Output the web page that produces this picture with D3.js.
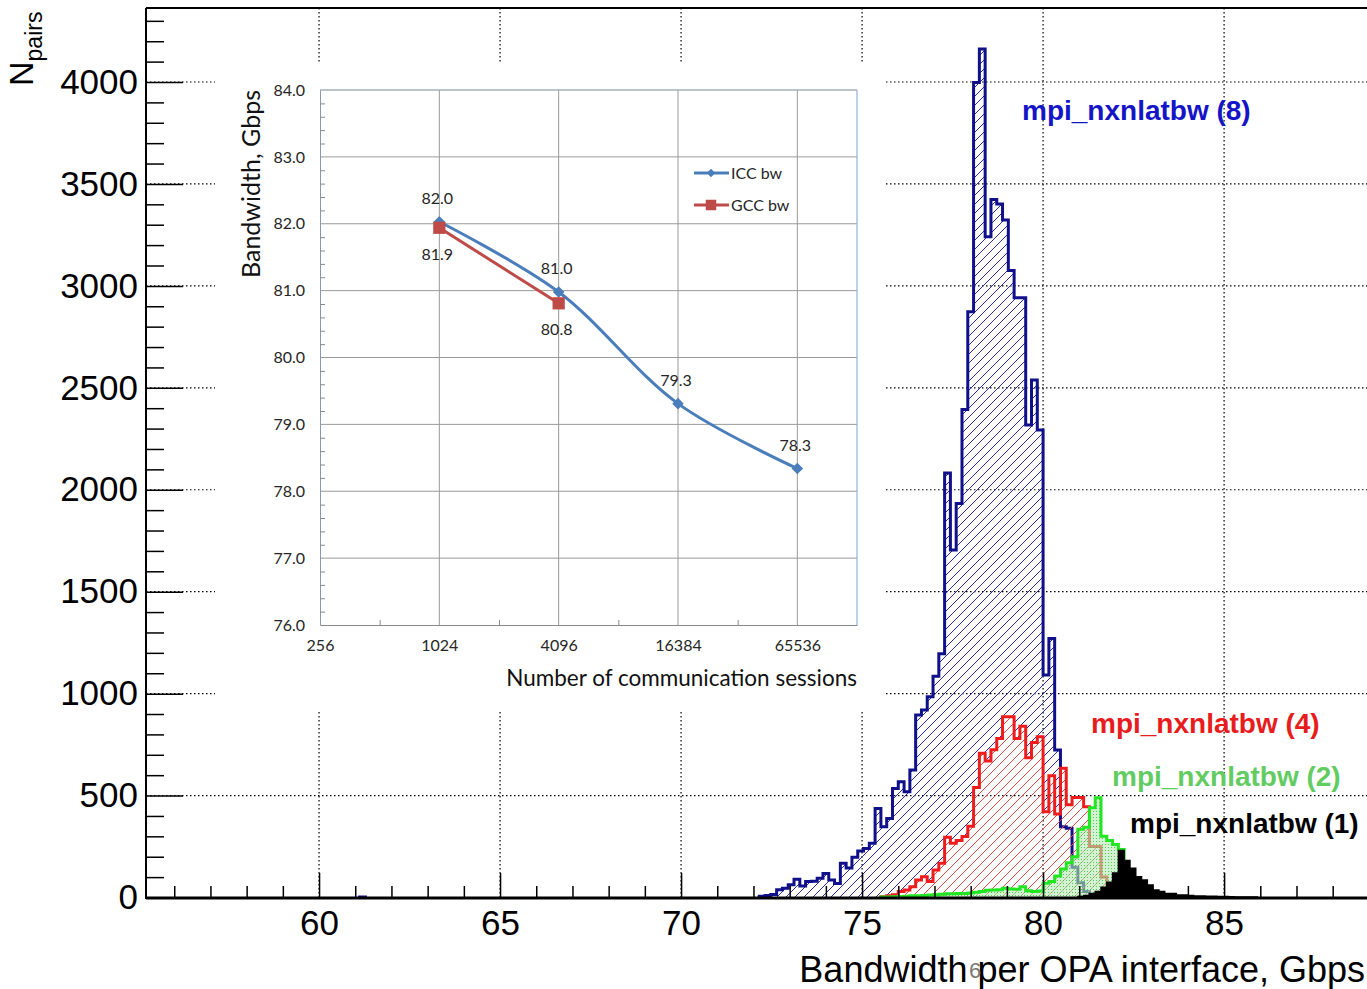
<!DOCTYPE html>
<html>
<head>
<meta charset="utf-8">
<script src="https://cdn.jsdelivr.net/npm/d3@7"></script>
<style>
body { margin: 0; background: #fff; }
svg { display: block; font-family: "Liberation Sans", Arial, sans-serif; }
</style>
</head>
<body>
<svg id="chart" width="1367" height="989"></svg>
<script>
const binWidth = 0.16;

const blueStart = 72.16;
const blueCounts = [6, 10, 15, 38, 45, 62, 89, 56, 78, 80, 94, 118, 86, 69, 168, 145, 197, 228, 240, 266,
    437, 347, 388, 535, 568, 519, 625, 895, 920, 985, 1085, 1195, 2082, 1704, 1933, 2394, 2873, 3998, 4162,
    3241, 3424, 3401, 3323, 3075, 2942, 2942, 2318, 2538, 2293, 1091, 1271, 723, 347, 340, 148, 72, 30, 8];
const blueStray = [{x0: 61.12, n: 3}];

const redStart = 75.52;
const redCounts = [4, 8, 14, 29, 37, 53, 86, 102, 78, 135, 168, 295, 266, 280, 299, 350, 540, 707, 670, 725,
    780, 887, 887, 780, 840, 685, 760, 789, 421, 597, 410, 634, 455, 490, 490, 445, 250, 250, 100, 15, 8, 6, 5, 4, 3];

const greenStart = 75.52;
const greenCounts = [2, 3, 4, 5, 6, 8, 8, 10, 12, 14, 16, 18, 18, 20, 20, 22, 26, 30, 35, 37, 38, 45, 42, 40,
    53, 33, 30, 32, 70, 78, 105, 140, 170, 200, 335, 345, 440, 489, 300, 280, 260, 235, 12, 10, 8, 6, 5, 5, 4, 3, 3, 3, 2];

const blackStart = 80.96;
const blackCounts = [5, 10, 20, 30, 50, 75, 120, 230, 182, 143, 102, 86, 61, 37, 29, 20, 20, 12, 12, 10, 7, 7,
    6, 6, 5, 5, 4, 3, 3, 2, 2];

const xMajor = [60, 65, 70, 75, 80, 85];
const yMajor = [0, 500, 1000, 1500, 2000, 2500, 3000, 3500, 4000];

const seriesLabels = [
    {text: "mpi_nxnlatbw (8)", color: "#1414c8", x: 1022, y: 120},
    {text: "mpi_nxnlatbw (4)", color: "#e81c1c", x: 1091, y: 733},
    {text: "mpi_nxnlatbw (2)", color: "#62cc62", x: 1112, y: 786},
    {text: "mpi_nxnlatbw (1)", color: "#000000", x: 1130, y: 833}
];

// inset
const sessions = [1024, 4096, 16384, 65536];
const iccBw = [82.03, 80.98, 79.31, 78.34];
const gccSessions = [1024, 4096];
const gccBw = [81.94, 80.81];
const insetXTicks = [256, 1024, 4096, 16384, 65536];
const insetXMinor = [512, 2048, 8192, 32768];
const insetYTicks = [76, 77, 78, 79, 80, 81, 82, 83, 84];

const svg = d3.select("#chart");

const x = d3.scaleLinear().domain([55.22, 89.5]).range([146, 1387]);
const y = d3.scaleLinear().domain([0, 4000]).range([897.5, 82]);

const defs = svg.append("defs");

function hatch(id, color) {
    defs.append("pattern")
        .attr("id", id)
        .attr("patternUnits", "userSpaceOnUse")
        .attr("width", 9)
        .attr("height", 9)
        .append("path")
        .attr("d", "M-1,1 l2,-2 M0,9 l9,-9 M8,10 l2,-2")
        .attr("stroke", color)
        .attr("stroke-width", 1);
}
hatch("hatchBlue", "#2b2ba6");
hatch("hatchRed", "#e34848");

const dots = defs.append("pattern")
    .attr("id", "dotsGreen")
    .attr("patternUnits", "userSpaceOnUse")
    .attr("width", 3)
    .attr("height", 3);
dots.append("rect").attr("width", 3).attr("height", 3).attr("fill", "#b4ecb4").attr("fill-opacity", 0.6);
dots.append("rect").attr("x", 1).attr("y", 1).attr("width", 1).attr("height", 1).attr("fill", "#3cb83c").attr("fill-opacity", 0.8);

// dotted grid
const grid = svg.append("g")
    .attr("stroke", "#000")
    .attr("stroke-width", 1.2)
    .attr("stroke-dasharray", "1.5,2.5");
grid.selectAll(".vg").data(xMajor).join("line")
    .attr("x1", d => x(d)).attr("x2", d => x(d))
    .attr("y1", 8).attr("y2", 898);
grid.selectAll(".hg").data(yMajor.slice(1)).join("line")
    .attr("x1", 146).attr("x2", 1367)
    .attr("y1", d => y(d)).attr("y2", d => y(d));

// histograms
function toBins(start, counts) {
    return counts.map((n, i) => ({x0: start + i * binWidth, n}));
}
function closed(bins) {
    const last = bins[bins.length - 1];
    return [{x0: bins[0].x0, n: 0}, ...bins, {x0: last.x0 + binWidth, n: 0}];
}
const area = d3.area().curve(d3.curveStepAfter).x(d => x(d.x0)).y0(y(0)).y1(d => y(d.n));
const line = d3.line().curve(d3.curveStepAfter).x(d => x(d.x0)).y(d => y(d.n));

function drawHist(bins, fill, stroke, width) {
    const pts = closed(bins);
    svg.append("path").attr("d", area(pts)).attr("fill", fill);
    if (stroke) {
        svg.append("path").attr("d", line(pts))
            .attr("fill", "none")
            .attr("stroke", stroke)
            .attr("stroke-width", width)
            .attr("stroke-linejoin", "miter");
    }
}

drawHist(toBins(blueStart, blueCounts), "url(#hatchBlue)", "#10108a", 3);
drawHist(blueStray, "none", "#10108a", 3);
drawHist(toBins(redStart, redCounts), "url(#hatchRed)", "#ee1c1c", 3);
drawHist(toBins(greenStart, greenCounts), "url(#dotsGreen)", "#22e622", 3);
drawHist(toBins(blackStart, blackCounts), "#000", "#000", 1.5);

// axes
const yAxis = svg.append("g")
    .attr("transform", "translate(146,0)")
    .call(d3.axisLeft(y).tickValues(yMajor).tickSizeInner(-37).tickSizeOuter(0).tickPadding(8)
        .tickFormat(d3.format("d")));
yAxis.select(".domain").remove();
yAxis.selectAll("line").attr("stroke-width", 1.5);
yAxis.selectAll("text").attr("font-size", 35).attr("font-family", "'Liberation Sans', Arial").attr("fill", "#000");

const yMinor = svg.append("g")
    .attr("transform", "translate(146,0)")
    .call(d3.axisLeft(y).tickValues(d3.range(100, 4400, 100).filter(v => v % 500 !== 0))
        .tickSizeInner(-18).tickSizeOuter(0).tickFormat(""));
yMinor.select(".domain").remove();
yMinor.selectAll("line").attr("stroke-width", 1.5);

const xAxis = svg.append("g")
    .attr("transform", "translate(0,898)")
    .call(d3.axisBottom(x).tickValues(xMajor).tickSizeInner(-25).tickSizeOuter(0).tickPadding(12));
xAxis.select(".domain").remove();
xAxis.selectAll("line").attr("stroke-width", 1.5);
xAxis.selectAll("text").attr("font-size", 35).attr("font-family", "'Liberation Sans', Arial").attr("fill", "#000");

const xMinor = svg.append("g")
    .attr("transform", "translate(0,898)")
    .call(d3.axisBottom(x).tickValues(d3.range(56, 90).filter(v => v % 5 !== 0))
        .tickSizeInner(-12).tickSizeOuter(0).tickFormat(""));
xMinor.select(".domain").remove();
xMinor.selectAll("line").attr("stroke-width", 1.5);

svg.append("line").attr("x1", 146).attr("x2", 1367).attr("y1", 898).attr("y2", 898)
    .attr("stroke", "#000").attr("stroke-width", 3);
svg.append("line").attr("x1", 146).attr("x2", 146).attr("y1", 8).attr("y2", 899)
    .attr("stroke", "#000").attr("stroke-width", 2);
svg.append("line").attr("x1", 146).attr("x2", 1367).attr("y1", 8).attr("y2", 8)
    .attr("stroke", "#000").attr("stroke-width", 2);

// axis titles
const yTitle = svg.append("text")
    .attr("transform", "translate(33,86) rotate(-90)")
    .attr("font-size", 34)
    .attr("fill", "#000");
yTitle.append("tspan").text("N");
yTitle.append("tspan").attr("font-size", 23).attr("dy", 9).text("pairs");

svg.append("text")
    .attr("x", 1365).attr("y", 982)
    .attr("text-anchor", "end")
    .attr("font-size", 36)
    .attr("fill", "#000")
    .text("Bandwidth per OPA interface, Gbps");

// stray page number in the source image
svg.append("text")
    .attr("x", 975).attr("y", 978)
    .attr("text-anchor", "middle")
    .attr("font-size", 22)
    .attr("fill", "#777")
    .text("6");

// series labels
svg.selectAll(".slab").data(seriesLabels).join("text")
    .attr("x", d => d.x).attr("y", d => d.y)
    .attr("font-size", 28)
    .attr("font-weight", "bold")
    .attr("fill", d => d.color)
    .text(d => d.text);

// ---------------- inset ----------------
const ins = svg.append("g").attr("font-family", "Lato, 'Open Sans', sans-serif");
ins.append("rect").attr("x", 215).attr("y", 62).attr("width", 670).attr("height", 650).attr("fill", "#fff");

const xi = d3.scaleLog().base(2).domain([256, 131072]).range([320, 857]);
const yi = d3.scaleLinear().domain([76, 84]).range([625, 90]);

ins.selectAll(".ihg").data(insetYTicks.slice(1)).join("line")
    .attr("x1", 320).attr("x2", 857)
    .attr("y1", d => yi(d)).attr("y2", d => yi(d))
    .attr("stroke", "#9a9a9a").attr("stroke-width", 1);
ins.selectAll(".ivg").data(insetXTicks.slice(1)).join("line")
    .attr("x1", d => xi(d)).attr("x2", d => xi(d))
    .attr("y1", 90).attr("y2", 625)
    .attr("stroke", "#9a9a9a").attr("stroke-width", 1);

// plot-area border
ins.append("line").attr("x1", 857).attr("x2", 857).attr("y1", 90).attr("y2", 625)
    .attr("stroke", "#8fb4dc").attr("stroke-width", 1.2);
ins.append("line").attr("x1", 320).attr("x2", 857).attr("y1", 90).attr("y2", 90)
    .attr("stroke", "#a8b8c8").attr("stroke-width", 1);

const yiAxis = ins.append("g")
    .attr("transform", "translate(320,0)")
    .call(d3.axisLeft(yi).tickValues(insetYTicks).tickSize(0).tickPadding(15).tickFormat(d3.format(".1f")));
yiAxis.select(".domain").attr("stroke", "#8a9aaa");
yiAxis.selectAll("text").attr("font-size", 16).attr("fill", "#262626").attr("font-family", "Lato, sans-serif");

const yiMinor = ins.append("g")
    .attr("transform", "translate(320,0)")
    .call(d3.axisLeft(yi).tickValues(d3.range(76.2, 84, 0.2).filter(v => Math.abs(v - Math.round(v)) > 0.05))
        .tickSizeInner(-5).tickSizeOuter(0).tickFormat(""));
yiMinor.select(".domain").remove();
yiMinor.selectAll("line").attr("stroke", "#8a8a8a");

const xiAxis = ins.append("g")
    .attr("transform", "translate(0,625)")
    .call(d3.axisBottom(xi).tickValues(insetXTicks).tickSize(0).tickPadding(15).tickFormat(d3.format("d")));
xiAxis.select(".domain").attr("stroke", "#8a8a8a");
xiAxis.selectAll("text").attr("font-size", 16).attr("fill", "#262626").attr("font-family", "Lato, sans-serif");

const xiMinor = ins.append("g")
    .attr("transform", "translate(0,625)")
    .call(d3.axisBottom(xi).tickValues(insetXMinor).tickSizeInner(-5).tickSizeOuter(0).tickFormat(""));
xiMinor.select(".domain").remove();
xiMinor.selectAll("line").attr("stroke", "#8a8a8a");

ins.append("text")
    .attr("transform", "translate(260,184) rotate(-90)")
    .attr("text-anchor", "middle")
    .attr("font-size", 25)
    .attr("fill", "#111")
    .text("Bandwidth, Gbps");

ins.append("text")
    .attr("x", 857).attr("y", 686)
    .attr("text-anchor", "end")
    .attr("font-size", 22.5)
    .attr("fill", "#111")
    .text("Number of communication sessions");

const iccColor = "#4a7ebb";
const gccColor = "#be4b48";

const iccPts = sessions.map((s, i) => ({s, v: iccBw[i]}));
const gccPts = gccSessions.map((s, i) => ({s, v: gccBw[i]}));

ins.append("path")
    .attr("d", d3.line().curve(d3.curveCatmullRom.alpha(0.5)).x(d => xi(d.s)).y(d => yi(d.v))(iccPts))
    .attr("fill", "none").attr("stroke", iccColor).attr("stroke-width", 3);
ins.append("path")
    .attr("d", d3.line().x(d => xi(d.s)).y(d => yi(d.v))(gccPts))
    .attr("fill", "none").attr("stroke", gccColor).attr("stroke-width", 3);

ins.selectAll(".icc").data(iccPts).join("path")
    .attr("transform", d => `translate(${xi(d.s)},${yi(d.v)})`)
    .attr("d", d3.symbol(d3.symbolDiamond2, 85))
    .attr("fill", iccColor);
ins.selectAll(".gcc").data(gccPts).join("path")
    .attr("transform", d => `translate(${xi(d.s)},${yi(d.v)})`)
    .attr("d", d3.symbol(d3.symbolSquare, 150))
    .attr("fill", gccColor);

ins.selectAll(".iccl").data(iccPts).join("text")
    .attr("x", d => xi(d.s) - 2).attr("y", d => yi(d.v) - 18)
    .attr("text-anchor", "middle")
    .attr("font-size", 16).attr("fill", "#262626")
    .text(d => d.v.toFixed(1));
ins.selectAll(".gccl").data(gccPts).join("text")
    .attr("x", d => xi(d.s) - 2).attr("y", d => yi(d.v) + 32)
    .attr("text-anchor", "middle")
    .attr("font-size", 16).attr("fill", "#262626")
    .text(d => d.v.toFixed(1));

// legend
const legend = [
    {name: "ICC bw", color: iccColor, sym: d3.symbolDiamond2, size: 45, y: 173},
    {name: "GCC bw", color: gccColor, sym: d3.symbolSquare, size: 110, y: 205}
];
const lg = ins.selectAll(".lg").data(legend).join("g")
    .attr("transform", d => `translate(0,${d.y})`);
lg.append("line").attr("x1", 694).attr("x2", 729).attr("stroke", d => d.color).attr("stroke-width", 3);
lg.append("path").attr("transform", "translate(711,0)")
    .attr("d", d => d3.symbol(d.sym, d.size)()).attr("fill", d => d.color);
lg.append("text").attr("x", 731).attr("y", 5.5).attr("font-size", 16).attr("fill", "#262626")
    .text(d => d.name);
</script>
</body>
</html>
